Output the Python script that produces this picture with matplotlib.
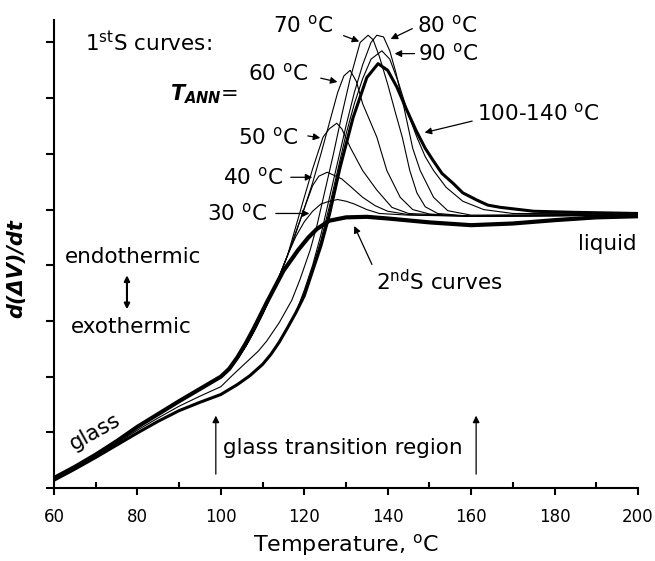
import matplotlib.pyplot as plt

# glass side, shared by the curves (deg C, d(dV)/dt in arb. units)
t_glass = [60, 65, 70, 75, 80, 85, 90, 95, 100]
upper_glass = [0.18, 0.38, 0.6, 0.84, 1.1, 1.33, 1.56, 1.78, 2.0]
mid_glass = [0.16, 0.36, 0.57, 0.8, 1.04, 1.26, 1.47, 1.65, 1.82]
lower_glass = [0.14, 0.34, 0.55, 0.77, 0.99, 1.2, 1.39, 1.54, 1.68]

t_up = [102, 104, 106, 108, 110, 112, 114, 116]
y_up = [2.14, 2.32, 2.55, 2.82, 3.12, 3.45, 3.8, 4.18]

t_low = [104, 107, 110, 112, 114, 116, 118]
y_low = [1.86, 2.02, 2.22, 2.4, 2.62, 2.88, 3.15]

# 1st scan curves, by annealing temperature
t30 = [118, 120, 122, 124, 126, 128, 130, 132, 135, 138, 145, 160, 180, 200]
y30 = [4.52, 4.78, 4.97, 5.1, 5.15, 5.18, 5.15, 5.1, 5.0, 4.93, 4.9, 4.88, 4.9, 4.9]

t40 = [118, 120, 122, 123.5, 125.5, 127, 129, 131, 134, 137, 140, 145, 160, 200]
y40 = [4.6, 5.02, 5.43, 5.6, 5.67, 5.62, 5.55, 5.42, 5.22, 5.07, 4.97, 4.91, 4.88, 4.9]

t50 = [118, 120, 122, 124.5, 126, 127.8, 129, 131, 134, 137.4, 141, 145, 160, 200]
y50 = [4.7, 5.22, 5.73, 6.3, 6.45, 6.55, 6.45, 6.12, 5.7, 5.35, 5.04, 4.93, 4.88, 4.9]

t60 = [118, 120, 122, 124, 126, 128, 129.5, 131, 132.5, 134, 137.4, 139.8, 143, 146, 150, 160, 200]
y60 = [4.58, 5.02, 5.48, 6.0, 6.55, 7.1, 7.4, 7.5, 7.3, 6.9, 6.3, 5.7, 5.22, 5.0, 4.92, 4.88, 4.9]

t70 = [103, 106, 109, 111, 114, 117, 119, 121.4, 123, 125, 127, 129, 131, 133.4, 135.3, 136.5,
       138, 140, 142, 143.5, 145.3, 147, 149, 152, 160, 200]
y70 = [2.04, 2.25, 2.46, 2.64, 2.97, 3.37, 3.75, 4.27, 4.7, 5.35, 6.0, 6.7, 7.35, 8.0, 8.13, 8.05,
       7.75, 7.25, 6.7, 6.3, 5.7, 5.3, 5.05, 4.93, 4.88, 4.9]

t80 = [120, 122, 124, 126, 128, 130, 132, 134, 136, 137.4, 139,
       140.5, 142, 144, 146, 147.8, 151, 154.4, 160, 200]
y80 = [3.55, 4.0, 4.55, 5.2, 5.85, 6.5, 7.1, 7.6, 8.0, 8.13, 8.1,
       7.85, 7.45, 6.8, 6.1, 5.7, 5.22, 4.98, 4.9, 4.92]

t90 = [120, 122, 124, 126, 128, 130, 132, 134, 136, 138.6, 140.5,
       142.5, 145, 147, 149, 151, 154, 158, 163, 170, 200]
y90 = [3.5, 3.95, 4.45, 5.05, 5.7, 6.35, 6.9, 7.35, 7.7, 7.85, 7.7,
       7.3, 6.7, 6.3, 5.95, 5.7, 5.4, 5.15, 5.0, 4.93, 4.92]

t100 = [120, 122, 124, 126, 128.6, 131.7, 135, 137.7, 140, 142.2,
        144.5, 146.8, 149, 150.9, 153, 155.7, 158, 161.4, 164, 167, 175, 185, 200]
y100 = [3.45, 3.9, 4.35, 4.9, 5.76, 6.65, 7.37, 7.62, 7.5, 7.2,
        6.8, 6.42, 6.1, 5.88, 5.65, 5.47, 5.3, 5.17, 5.08, 5.04, 4.97, 4.95, 4.93]

# 2nd scan curves
t2nd = [102, 104, 106, 108, 111, 115, 118.5, 121, 123, 126, 130, 135, 140, 150, 160, 170, 180,
        190, 200]
y2nd = [2.14, 2.35, 2.6, 2.88, 3.33, 3.9, 4.27, 4.5, 4.65, 4.8, 4.86, 4.87, 4.84, 4.77, 4.72,
        4.75, 4.81, 4.86, 4.88]

fig = plt.figure(figsize=(6.55, 5.61), dpi=100)
ax = fig.add_axes([0.0824, 0.130, 0.8916, 0.834])

thin = dict(color='black', lw=0.8)
for t_tail, y_tail in [(t30, y30), (t40, y40), (t50, y50), (t60, y60)]:
    ax.plot(t_glass + t_up + t_tail, upper_glass + y_up + y_tail, **thin)
ax.plot(t_glass + t70, mid_glass + y70, **thin)
ax.plot(t_glass + t_low + t80, lower_glass + y_low + y80, **thin)
ax.plot(t_glass + t_low + t90, lower_glass + y_low + y90, **thin)
ax.plot(t_glass + t_low + t100, lower_glass + y_low + y100, color='black', lw=2.2)
ax.plot(t_glass + t2nd, upper_glass + y2nd, color='black', lw=3.0)

ax.set_xlim(60, 200)
ax.set_ylim(0, 8.4)
ax.set_xticks(range(60, 201, 20))
ax.set_xticks(range(70, 200, 20), minor=True)
ax.set_yticks(range(0, 9))
ax.set_yticklabels([])
ax.spines['top'].set_visible(False)
ax.spines['right'].set_visible(False)
ax.spines['left'].set_linewidth(1.5)
ax.spines['bottom'].set_linewidth(1.5)
ax.tick_params(axis='x', which='major', direction='out', length=5, width=1.5,
               labelsize=12, pad=9)
ax.tick_params(axis='x', which='minor', direction='in', length=4, width=1.5)
ax.tick_params(axis='y', which='major', direction='out', length=6, width=1.5)

ax.set_xlabel(r'Temperature, $^{\mathrm{o}}$C', fontsize=16, labelpad=5)
ax.set_ylabel('d(\u0394V)/dt', fontsize=15, fontweight='bold', style='italic')
ax.yaxis.set_label_coords(-0.047, 0.47)

fs = 15.5
deg = r'$^{\mathrm{o}}$C'
arrow = dict(arrowstyle='-|>', color='black', lw=0.9, mutation_scale=10)

ax.text(67.4, 8.0, r'1$^{\mathrm{st}}$S curves:', fontsize=fs, va='center')
ax.text(87.8, 7.08, r'$\mathbfit{T}_{\mathbfit{ANN}}$=', fontsize=15, va='center')

labels = [
    ('70 ' + deg, (112.5, 8.3), (128.8, 8.14), (133.8, 8.0)),
    ('60 ' + deg, (106.5, 7.44), (123.3, 7.37), (128.6, 7.28)),
    ('50 ' + deg, (104.1, 6.3), (120.2, 6.33), (124.5, 6.28)),
    ('40 ' + deg, (100.5, 5.58), (116.1, 5.58), (122.6, 5.58)),
    ('30 ' + deg, (96.7, 4.93), (112.5, 4.93), (121.9, 4.93)),
    ('80 ' + deg, (147.0, 8.3), (146.5, 8.27), (140.1, 8.04)),
    ('90 ' + deg, (147.3, 7.8), (147.1, 7.8), (141.0, 7.8)),
    ('100-140 ' + deg, (161.4, 6.73), (160.9, 6.6), (148.2, 6.37)),
]
for txt, pos, tail, tip in labels:
    ax.text(pos[0], pos[1], txt, fontsize=fs, va='center')
    ax.annotate('', xy=tip, xytext=tail, arrowprops=arrow)

ax.text(137.2, 3.7, r'2$^{\mathrm{nd}}$S curves', fontsize=fs, va='center')
ax.annotate('', xy=(131.7, 4.75), xytext=(136.5, 3.97), arrowprops=arrow)

ax.text(185.6, 4.39, 'liquid', fontsize=fs, va='center')
ax.text(69.8, 1.0, 'glass', fontsize=fs, va='center', ha='center', rotation=29)

ax.text(100.5, 0.72, 'glass transition region', fontsize=fs, va='center')
ax.annotate('', xy=(98.8, 1.35), xytext=(98.8, 0.2), arrowprops=arrow)
ax.annotate('', xy=(161.2, 1.35), xytext=(161.2, 0.2), arrowprops=arrow)

ax.text(62.6, 4.14, 'endothermic', fontsize=fs, va='center')
ax.text(64.1, 2.9, 'exothermic', fontsize=fs, va='center')
ax.annotate('', xy=(77.5, 3.87), xytext=(77.5, 3.16),
            arrowprops=dict(arrowstyle='<|-|>', color='black', lw=1.5, mutation_scale=8))

fig.savefig('out.png', dpi=100)
